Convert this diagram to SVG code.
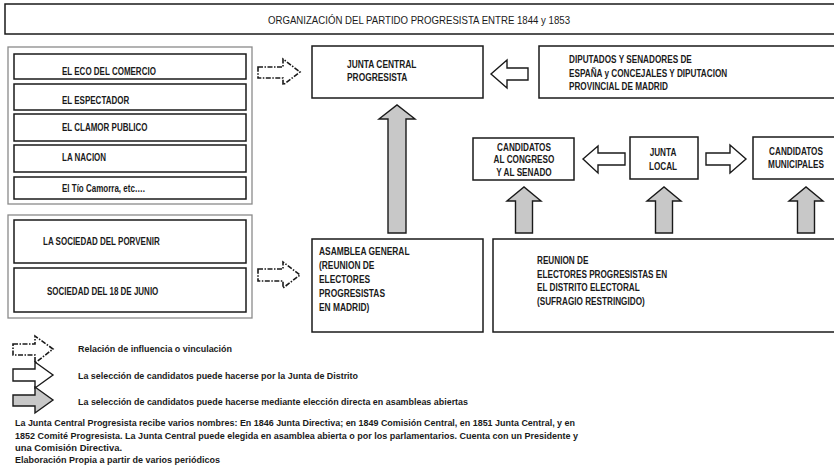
<svg xmlns="http://www.w3.org/2000/svg" width="834" height="470" viewBox="0 0 834 470">
<style>
text{font-family:"Liberation Sans",Arial,sans-serif;font-weight:bold;fill:#1a1a1a;font-size:10px}
.t{font-size:11px;font-weight:normal}
.s{font-size:9.3px}
.m{text-anchor:middle}
.box{fill:#fff;stroke:#1a1a1a;stroke-width:1.5}
.frame{fill:#fff;stroke:#8a8a8a;stroke-width:1.3}
.dash{fill:#fff;stroke:#1a1a1a;stroke-width:1.6;stroke-dasharray:5 1.5 1.5 1.5}
.white{fill:#fff;stroke:#1a1a1a;stroke-width:1.4}
.gray{fill:#c8c8c8;stroke:#1a1a1a;stroke-width:1.4}
</style>
<rect width="834" height="470" fill="#fff"/>
<g id="title">
<rect class="box" x="5" y="4" width="835" height="30"/>
<text class="t" x="419" y="23.5" text-anchor="middle" textLength="302" lengthAdjust="spacingAndGlyphs">ORGANIZACIÓN DEL PARTIDO PROGRESISTA ENTRE 1844 y 1853</text>
</g>
<g id="periodicos">
<rect class="frame" x="8" y="47" width="244" height="157"/>
<rect class="box" x="14" y="54" width="232" height="25"/>
<text transform="translate(62,74.5) scale(.8 1)">EL ECO DEL COMERCIO</text>
<rect class="box" x="14" y="84" width="232" height="26"/>
<text transform="translate(62,103.5) scale(.8 1)">EL ESPECTADOR</text>
<rect class="box" x="14" y="114" width="232" height="27"/>
<text transform="translate(62,131) scale(.8 1)">EL CLAMOR PUBLICO</text>
<rect class="box" x="14" y="145" width="232" height="27"/>
<text transform="translate(62,161) scale(.8 1)">LA NACION</text>
<rect class="box" x="14" y="177" width="232" height="22"/>
<text transform="translate(62,192) scale(.8 1)">El Tío Camorra, etc….</text>
</g>
<g id="sociedades">
<rect class="frame" x="8" y="215" width="244" height="103"/>
<rect class="box" x="14" y="220" width="232" height="43"/>
<text transform="translate(43,245) scale(.8 1)">LA SOCIEDAD DEL PORVENIR</text>
<rect class="box" x="14" y="268" width="232" height="44"/>
<text transform="translate(47,295) scale(.8 1)">SOCIEDAD DEL 18 DE JUNIO</text>
</g>
<g id="junta-central">
<rect class="box" x="312" y="46" width="171" height="52"/>
<text transform="translate(347,67.5) scale(.84 1)">JUNTA CENTRAL</text>
<text transform="translate(347,81) scale(.84 1)">PROGRESISTA</text>
</g>
<g id="diputados">
<rect class="box" x="539" y="46" width="300" height="52"/>
<text transform="translate(569,63) scale(.82 1)">DIPUTADOS Y SENADORES DE</text>
<text transform="translate(569,76.5) scale(.82 1)">ESPAÑA y CONCEJALES Y DIPUTACION</text>
<text transform="translate(569,90) scale(.82 1)">PROVINCIAL DE MADRID</text>
</g>
<g id="candidatos-congreso">
<rect class="box" x="473" y="138" width="101" height="42"/>
<text class="m" transform="translate(524,150.5) scale(.82 1)">CANDIDATOS</text>
<text class="m" transform="translate(524,163) scale(.82 1)">AL CONGRESO</text>
<text class="m" transform="translate(524,175.5) scale(.82 1)">Y AL SENADO</text>
</g>
<g id="junta-local">
<rect class="box" x="630" y="137" width="68" height="42"/>
<text class="m" transform="translate(663,156) scale(.82 1)">JUNTA</text>
<text class="m" transform="translate(663,169.5) scale(.82 1)">LOCAL</text>
</g>
<g id="candidatos-municipales">
<rect class="box" x="753" y="137" width="86" height="42"/>
<text class="m" transform="translate(796,154.5) scale(.82 1)">CANDIDATOS</text>
<text class="m" transform="translate(796,167.5) scale(.82 1)">MUNICIPALES</text>
</g>
<g id="asamblea">
<rect class="box" x="312" y="239" width="171" height="93"/>
<text transform="translate(319,254.5) scale(.84 1)">ASAMBLEA GENERAL</text>
<text transform="translate(319,268.5) scale(.84 1)">(REUNION DE</text>
<text transform="translate(319,282.5) scale(.84 1)">ELECTORES</text>
<text transform="translate(319,296.5) scale(.84 1)">PROGRESISTAS</text>
<text transform="translate(319,310.5) scale(.84 1)">EN MADRID)</text>
</g>
<g id="reunion">
<rect class="box" x="493" y="239" width="346" height="93"/>
<text transform="translate(537,263.5) scale(.82 1)">REUNION DE</text>
<text transform="translate(537,277.5) scale(.82 1)">ELECTORES PROGRESISTAS EN</text>
<text transform="translate(537,291) scale(.82 1)">EL DISTRITO ELECTORAL</text>
<text transform="translate(537,304.5) scale(.82 1)">(SUFRAGIO RESTRINGIDO)</text>
</g>
<g id="connectors">
<path class="dash" d="M258,67 L283,67 L283,59 L300,72 L283,85 L283,78 L258,78 Z"/>
<path class="dash" d="M258,269 L283,269 L283,262 L300,275 L283,288 L283,281 L258,281 Z"/>
<path class="white" d="M528,68 L507,68 L507,60 L491,74 L507,88 L507,80 L528,80 Z"/>
<path class="white" d="M625,153 L598,153 L598,146 L583,159 L598,173 L598,165 L625,165 Z"/>
<path class="white" d="M706,153 L730,153 L730,145 L746,159 L730,173 L730,165 L706,165 Z"/>
<path class="gray" d="M388,233 L388,119 L379,119 L397,105 L415,119 L406,119 L406,233 Z"/>
<path class="gray" d="M515.5,233 L515.5,201 L507,201 L524,187 L541,201 L532.5,201 L532.5,233 Z"/>
<path class="gray" d="M655.5,233 L655.5,201 L647,201 L664,187 L681,201 L672.5,201 L672.5,233 Z"/>
<path class="gray" d="M797.5,233 L797.5,201 L789,201 L806,187 L823,201 L814.5,201 L814.5,233 Z"/>
</g>
<g id="legend">
<path class="dash" d="M13,344 L35,344 L35,336 L53,349 L35,363 L35,355 L13,355 Z"/>
<text class="s" x="78" y="352" textLength="154" lengthAdjust="spacingAndGlyphs">Relación de influencia o vinculación</text>
<path class="white" d="M13,369 L35,369 L35,362 L53,375 L35,388 L35,381 L13,381 Z"/>
<text class="s" x="78" y="379" textLength="280" lengthAdjust="spacingAndGlyphs">La selección de candidatos puede hacerse  por la Junta de Distrito</text>
<path class="gray" d="M13,395 L35,395 L35,387 L53,400 L35,413 L35,406 L13,406 Z"/>
<text class="s" x="78" y="405" textLength="390" lengthAdjust="spacingAndGlyphs">La selección de candidatos puede hacerse  mediante elección directa en asambleas abiertas</text>
</g>
<g id="nota">
<text class="s" x="15" y="426" textLength="560" lengthAdjust="spacingAndGlyphs">La Junta Central Progresista recibe varios nombres: En 1846 Junta Directiva; en 1849 Comisión Central, en  1851 Junta Central, y  en</text>
<text class="s" x="15" y="439" textLength="563" lengthAdjust="spacingAndGlyphs">1852 Comité Progresista. La Junta Central puede elegida en asamblea abierta o por los parlamentarios. Cuenta con un Presidente y</text>
<text class="s" x="15" y="451" textLength="107" lengthAdjust="spacingAndGlyphs">una Comisión Directiva.</text>
<text class="s" x="15" y="463" textLength="205" lengthAdjust="spacingAndGlyphs">Elaboración Propia a partir de varios periódicos</text>
</g>
</svg>
